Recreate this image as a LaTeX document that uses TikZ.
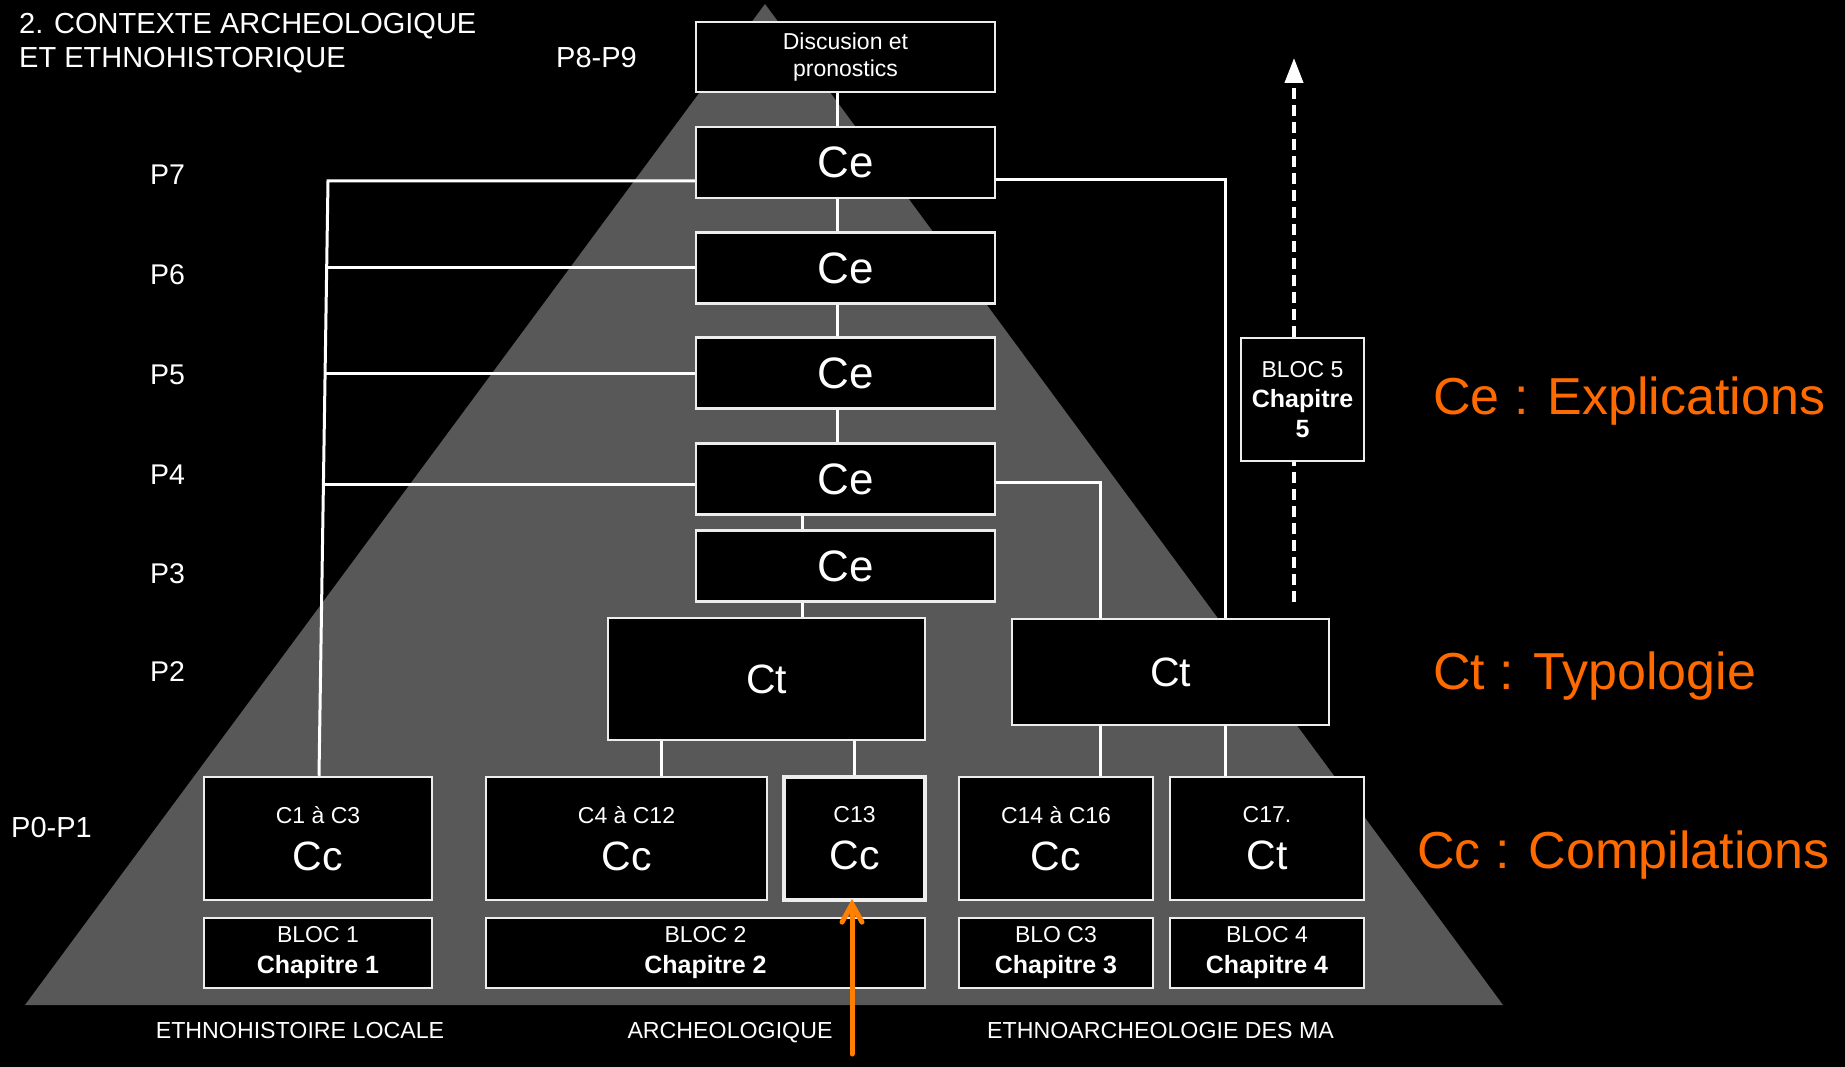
\documentclass[tikz,border=0pt]{standalone}
\usepackage{fontspec}
\setmainfont{Liberation Sans}
\usepackage{tikz}
\usepackage{xcolor}
\usetikzlibrary{positioning,arrows.meta}
\definecolor{pyrgray}{HTML}{585858}
\definecolor{boxline}{HTML}{EDEDED}
\definecolor{legorange}{HTML}{FF6A00}
\definecolor{arrorange}{HTML}{FF8000}
\newcommand{\fs}[1]{\fontsize{#1}{#1}\selectfont}

\begin{document}
\begin{tikzpicture}[x=1pt,y=-1pt]
\tikzstyle{every node}+=[inner sep=0pt, text=white]
\tikzstyle{bx}=[draw=boxline, fill=black, line width=2.5pt, align=center]
\tikzstyle{link}=[draw=white, line width=3pt]
\useasboundingbox (0,0) rectangle (1845,1067);
\fill [black] (0,0) rectangle (1845,1067);
\fill [pyrgray] (765,4) -- (25,1005) -- (1503,1005) -- cycle;
% title and levels
\node [anchor=north west, align=left, font=\fontsize{29}{34}\selectfont] (title) at (19,13.5) {2. CONTEXTE ARCHEOLOGIQUE\\ET ETHNOHISTORIQUE};
\node [anchor=base west, font=\fs{29}] (p89) at (556,68) {P8-P9};
\foreach \lab/\yy [count=\i] in {P7/185,P6/285,P5/384,P4/484,P3/583,P2/681}
  \node [anchor=base west, font=\fs{28.5}] (p\i) at (150,\yy) {\lab};
\node [anchor=base west, font=\fs{29}] (p01) at (11,837) {P0-P1};
% central column
\node [bx, minimum width=299, minimum height=70, font=\fontsize{23}{27}\selectfont] (disc) at (845.5,57) {Discusion et\\pronostics};
\foreach \yy [count=\i] in {162.5,268,373,479,566}
  \node [bx, minimum width=299, minimum height=71, font=\fs{44}] (ce\i) at (845.5,\yy) {Ce};
\node [bx, minimum width=317, minimum height=122, font=\fs{41}] (ct1) at (766.5,679) {Ct};
\node [bx, minimum width=317, minimum height=106, font=\fs{41}] (ct2) at (1170.5,672) {Ct};
% compilations and blocs
\foreach \nm/\xa/\xb/\sm/\bg/\lw in {c1/204/432/C1 à C3/Cc/2.5, c4/486/767/C4 à C12/Cc/2.5, c13/784/925/C13/Cc/4, c14/959/1153/C14 à C16/Cc/2.5, c17/1170/1364/C17./Ct/2.5}
  \node [bx, line width=\lw, minimum width={\xb-\xa}, minimum height=123, font=\fontsize{41}{47}\selectfont] (\nm) at ({(\xa+\xb)/2},838.5) {{\fs{23}\sm}\\\bg};
\foreach \nm/\xa/\xb/\ba/\ch in {b1/204/432/BLOC 1/Chapitre 1, b2/486/925/BLOC 2/Chapitre 2, b3/959/1153/BLO C3/Chapitre 3, b4/1170/1364/BLOC 4/Chapitre 4}
  \node [bx, minimum width={\xb-\xa}, minimum height=70, font=\fontsize{23}{31}\selectfont] (\nm) at ({(\xa+\xb)/2},953) {\ba\\{\fontsize{25}{31}\selectfont\bfseries\ch}};
\node [bx, minimum width=123, minimum height=123, font=\fontsize{23}{30}\selectfont] (b5) at (1302.5,399.5) {BLOC 5\\{\fontsize{25}{30}\selectfont\bfseries Chapitre}\\{\fontsize{25}{30}\selectfont\bfseries 5}};
% links
\coordinate (spa) at (837,0);
\coordinate (spb) at (802,0);
\coordinate (lxa) at (328,181);
\coordinate (rxa) at (1225,0);
\coordinate (rxb) at (1100,0);
\draw [link] (disc.south -| spa) -- (ce1.north -| spa);
\foreach \a/\b in {1/2,2/3,3/4}
  \draw [link] (ce\a.south -| spa) -- (ce\b.north -| spa);
\draw [link] (ce4.south -| spb) -- (ce5.north -| spb);
\draw [link] (ce5.south -| spb) -- (ct1.north -| spb);
\draw [link] (ce1.west |- lxa) -- (lxa) -- (c1.north -| 319,0);
\draw [link] (ce2.west) -- (ce2.west -| 326.7,0);
\draw [link] (ce3.west) -- (ce3.west -| 325.1,0);
\draw [link] (ce4.west |- 0,484) -- (323.4,484);
\draw [link] (ce1.east |- 0,180) -- (rxa |- 0,180) -- (ct2.north -| rxa);
\draw [link] (ce4.east |- 0,482) -- (rxb |- 0,482) -- (ct2.north -| rxb);
\draw [link] (ct2.south -| rxb) -- (c14.north -| rxb);
\draw [link] (ct2.south -| rxa) -- (c17.north -| rxa);
\draw [link] (ct1.south -| 661,0) -- (c4.north -| 661,0);
\draw [link] (ct1.south -| c13) -- (c13.north);
% arrows
\coordinate (dbot) at (1294,602);
\coordinate (dtop) at (1294,58);
\draw [white, line width=4pt, dash pattern=on 11pt off 6pt] (dbot) -- (b5.south -| dbot);
\draw [white, line width=4pt, dash pattern=on 11pt off 6pt, -{Triangle[length=25pt,width=18pt]}] (b5.north -| dbot) -- (dtop);
\coordinate (obot) at (852,1054);
\draw [arrorange, line width=5pt, line cap=round, -{Straight Barb[length=18pt,width=20pt,line cap=round]}] (obot) -- ([yshift=3pt]c13.south -| obot);
% legend and fields
\node [anchor=base west, text=legorange, font=\fs{52}] (lce) at (1433,414) {Ce : Explications};
\node [anchor=base west, text=legorange, font=\fs{52}] (lct) at (1433,689) {Ct : Typologie};
\node [anchor=base west, text=legorange, font=\fs{52}] (lcc) at (1417,868) {Cc : Compilations};
\node [anchor=base, font=\fs{23.2}] (fethno) at (300,1038) {ETHNOHISTOIRE LOCALE};
\node [anchor=base, font=\fs{23.2}] (farch) at (730,1038) {ARCHEOLOGIQUE};
\node [anchor=base, font=\fs{23.2}] (fethnoar) at (1160.5,1038) {ETHNOARCHEOLOGIE DES MA};
\end{tikzpicture}
\end{document}
